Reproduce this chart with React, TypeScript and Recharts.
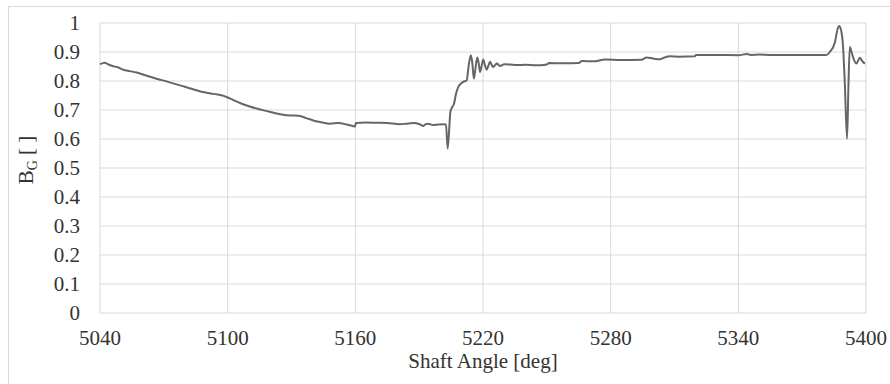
import React from "react";
import { LineChart, Line, XAxis, YAxis, CartesianGrid, Label } from "recharts";

// Shaft angle samples [deg]
const ANGLES = [
  5040, 5042.3, 5044, 5046.2, 5048, 5050.9, 5054, 5057.2, 5062, 5066.6, 5072, 5077.6, 5083, 5088.5,
  5092, 5094.8, 5097.5, 5099.5, 5102.5, 5105.8, 5110, 5113.6, 5118, 5123, 5127.7, 5131, 5134, 5137,
  5140.2, 5144, 5148.1, 5152, 5155.9, 5159, 5159.8, 5160.3, 5165, 5170, 5175, 5181, 5184, 5187.2,
  5190, 5191.9, 5193, 5194.2, 5196.6, 5199, 5201.3, 5202.6, 5203.4, 5204.7, 5205.4, 5206.3, 5207.3,
  5208.4, 5209.5, 5210.7, 5212.3, 5213.4, 5214.3, 5215.0, 5215.7, 5216.5, 5217.3, 5218.0, 5218.6,
  5219.3, 5220.1, 5220.9, 5221.7, 5222.5, 5223.3, 5224.0, 5224.7, 5225.6, 5226.5, 5228, 5230, 5232.7,
  5236, 5240, 5245, 5250, 5251, 5258, 5265, 5266.5, 5272, 5277.3, 5285, 5294.5, 5296.9, 5299, 5301,
  5303.2, 5305, 5307.9, 5312, 5319.6, 5320, 5330, 5340, 5344, 5346, 5350, 5355, 5370, 5381.4, 5383,
  5385.4, 5386.5, 5387.4, 5388.3, 5389.2, 5390.0, 5391.1, 5391.8, 5392.4, 5393.2, 5394.5, 5395.5,
  5397.1, 5398.3, 5399.5,
];

// Gas exchange parameter B_G [-]
const BG = [
  0.858, 0.863, 0.857, 0.851, 0.848, 0.839, 0.834, 0.829, 0.818, 0.808, 0.797, 0.785, 0.773, 0.762,
  0.757, 0.754, 0.75, 0.745, 0.735, 0.724, 0.713, 0.705, 0.697, 0.688, 0.682, 0.681, 0.679, 0.672,
  0.664, 0.658, 0.653, 0.655, 0.65, 0.644, 0.643, 0.655, 0.657, 0.656, 0.655, 0.651, 0.653, 0.655,
  0.652, 0.645, 0.651, 0.653, 0.648, 0.65, 0.651, 0.65, 0.567, 0.695, 0.708, 0.72, 0.755,
  0.78, 0.79, 0.797, 0.802, 0.86, 0.889, 0.86, 0.808, 0.845, 0.881, 0.86, 0.831,
  0.85, 0.874, 0.855, 0.839, 0.852, 0.866, 0.857, 0.848, 0.854, 0.86, 0.852, 0.858, 0.857,
  0.855, 0.856, 0.854, 0.857, 0.862, 0.861, 0.862, 0.869, 0.868, 0.874, 0.872, 0.873, 0.881, 0.879, 0.876,
  0.875, 0.88, 0.885, 0.884, 0.885, 0.89, 0.89, 0.889, 0.893, 0.89, 0.891, 0.89, 0.89, 0.89, 0.9,
  0.934, 0.975, 0.99, 0.975, 0.92, 0.8, 0.601, 0.8, 0.917, 0.9, 0.87, 0.86,
  0.88, 0.868, 0.86,
];

const X_TICKS = [5040, 5100, 5160, 5220, 5280, 5340, 5400];
const Y_TICKS = [0, 0.1, 0.2, 0.3, 0.4, 0.5, 0.6, 0.7, 0.8, 0.9, 1];

const rows = ANGLES.map((angle, i) => ({ angle, bg: BG[i] }));

const FONT = "Liberation Serif";
const TEXT_COLOR = "#333333";
const GRID_COLOR = "#d9d9d9";

const XTick = (props: any) => (
  <text
    x={props.x}
    y={props.y}
    dy="0.71em"
    textAnchor="middle"
    fontFamily={FONT}
    fontSize={21}
    fill={TEXT_COLOR}
  >
    {props.payload.value}
  </text>
);

const YTick = (props: any) => (
  <text
    x={props.x}
    y={props.y}
    dy="0.355em"
    textAnchor="end"
    fontFamily={FONT}
    fontSize={21}
    fill={TEXT_COLOR}
  >
    {props.payload.value}
  </text>
);

const renderYTitle = () => (
  <text
    transform="translate(33, 160) rotate(-90)"
    textAnchor="middle"
    fontFamily={FONT}
    fontSize={21}
    fill={TEXT_COLOR}
  >
    B
    <tspan fontSize={14} dy={4}>
      G
    </tspan>
    <tspan fontSize={21} dy={-4}>
      {" [ ]"}
    </tspan>
  </text>
);

const renderXTitle = (props: any) => {
  const vb = props.viewBox || { x: 100, y: 313, width: 766, height: 71 };
  return (
    <text
      x={vb.x + vb.width / 2}
      y={vb.y + 55}
      textAnchor="middle"
      fontFamily={FONT}
      fontSize={21}
      fill={TEXT_COLOR}
    >
      Shaft Angle [deg]
    </text>
  );
};

export default function App() {
  return (
    <div
      style={{
        position: "absolute",
        left: 0,
        top: 0,
        width: 890,
        height: 384,
        overflow: "hidden",
        background: "#ffffff",
      }}
    >
      <div
        style={{
          position: "absolute",
          left: 8,
          top: 6,
          width: 920,
          height: 420,
          border: `1px solid ${GRID_COLOR}`,
          boxSizing: "border-box",
        }}
      />
      <div style={{ position: "absolute", left: 0, top: 0 }}>
        <LineChart
          width={890}
          height={384}
          data={rows}
          margin={{ top: 23, right: 24, bottom: 0, left: 0 }}
        >
          <CartesianGrid stroke={GRID_COLOR} strokeWidth={1} />
          <XAxis
            dataKey="angle"
            type="number"
            domain={[5040, 5400]}
            ticks={X_TICKS}
            interval={0}
            height={71}
            axisLine={false}
            tickLine={false}
            tickSize={0}
            tickMargin={17}
            tick={<XTick />}
          >
            <Label content={renderXTitle} />
          </XAxis>
          <YAxis
            type="number"
            domain={[0, 1]}
            ticks={Y_TICKS}
            interval={0}
            width={100}
            axisLine={false}
            tickLine={false}
            tickSize={0}
            tickMargin={20}
            tick={<YTick />}
          >
            <Label content={renderYTitle} />
          </YAxis>
          <Line
            type="monotoneX"
            dataKey="bg"
            stroke="#666666"
            strokeWidth={2}
            dot={false}
            isAnimationActive={false}
          />
        </LineChart>
      </div>
    </div>
  );
}
